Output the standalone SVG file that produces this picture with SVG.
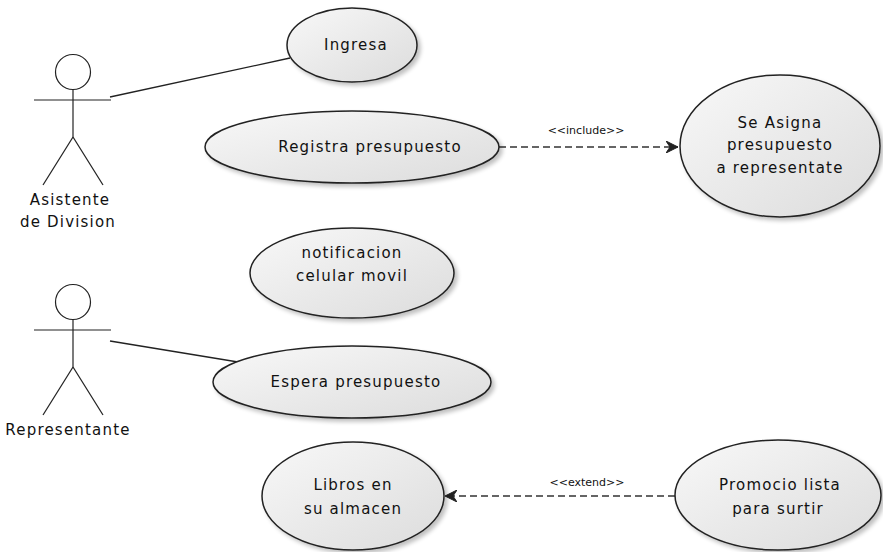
<svg xmlns="http://www.w3.org/2000/svg" width="883" height="552" viewBox="0 0 883 552">
<defs>
<linearGradient id="g" x1="0" y1="0" x2="1" y2="1">
<stop offset="0" stop-color="#f8f8f8"/>
<stop offset="1" stop-color="#dcdcdc"/>
</linearGradient>
<filter id="sh" x="-10%" y="-10%" width="130%" height="140%">
<feGaussianBlur in="SourceAlpha" stdDeviation="2"/>
<feOffset dx="3" dy="3"/>
<feComponentTransfer><feFuncA type="linear" slope="0.25"/></feComponentTransfer>
<feMerge><feMergeNode/><feMergeNode in="SourceGraphic"/></feMerge>
</filter>
<marker id="ah" markerWidth="14" markerHeight="12" refX="12" refY="6" orient="auto" markerUnits="userSpaceOnUse">
<path d="M0,0 L12,6 L0,12 L4,6 Z" fill="#222" stroke="#222" stroke-width="1"/>
</marker>
</defs>
<style>
.uc{fill:url(#g);stroke:#222;stroke-width:1.5;filter:url(#sh)}
.t{font-family:"DejaVu Sans","Liberation Sans",sans-serif;font-size:15px;letter-spacing:1.2px;fill:#111;text-anchor:middle}
.lbl{font-family:"DejaVu Sans","Liberation Sans",sans-serif;font-size:11px;fill:#111;text-anchor:middle}
.act{fill:none;stroke:#222;stroke-width:1.2}
.ln{fill:none;stroke:#222;stroke-width:1.3}
.dash{fill:none;stroke:#333;stroke-width:1.5;stroke-dasharray:7,4}
</style>
<rect width="883" height="552" fill="#fff"/>
<g id="connectors">
<line class="ln" x1="110" y1="97" x2="290" y2="58"/>
<line class="ln" x1="110" y1="341" x2="238" y2="362"/>
<line class="dash" x1="499" y1="147" x2="678" y2="147" marker-end="url(#ah)"/>
<text class="lbl" x="586" y="134">&lt;&lt;include&gt;&gt;</text>
<line class="dash" x1="675" y1="496" x2="445" y2="496" marker-end="url(#ah)"/>
<text class="lbl" x="587" y="486">&lt;&lt;extend&gt;&gt;</text>
</g>
<g id="asistente">
<circle class="act" cx="73" cy="72" r="17.5"/>
<line class="act" x1="73" y1="90" x2="73" y2="137"/>
<line class="act" x1="34" y1="100" x2="111" y2="100"/>
<line class="act" x1="73" y1="137" x2="43" y2="185"/>
<line class="act" x1="73" y1="137" x2="103" y2="185"/>
<text class="t" x="70" y="205">Asistente</text>
<text class="t" x="68" y="227">de Division</text>
</g>
<g id="representante">
<circle class="act" cx="73" cy="302" r="17.5"/>
<line class="act" x1="73" y1="320" x2="73" y2="367"/>
<line class="act" x1="34" y1="330" x2="111" y2="330"/>
<line class="act" x1="73" y1="367" x2="43" y2="415"/>
<line class="act" x1="73" y1="367" x2="103" y2="415"/>
<text class="t" x="68" y="435">Representante</text>
</g>
<g id="ingresa">
<ellipse class="uc" cx="352" cy="45" rx="65" ry="37"/>
<text class="t" x="356" y="50">Ingresa</text>
</g>
<g id="registra">
<ellipse class="uc" cx="352" cy="147" rx="147" ry="36"/>
<text class="t" x="370" y="152">Registra presupuesto</text>
</g>
<g id="asigna">
<ellipse class="uc" cx="780" cy="146" rx="100" ry="71"/>
<text class="t" x="780" y="128">Se Asigna</text>
<text class="t" x="780" y="150">presupuesto</text>
<text class="t" x="780" y="173">a representate</text>
</g>
<g id="notificacion">
<ellipse class="uc" cx="352" cy="273" rx="102" ry="45"/>
<text class="t" x="352" y="258">notificacion</text>
<text class="t" x="352" y="281">celular movil</text>
</g>
<g id="espera">
<ellipse class="uc" cx="352" cy="382" rx="139" ry="36"/>
<text class="t" x="356" y="387">Espera presupuesto</text>
</g>
<g id="libros">
<ellipse class="uc" cx="353" cy="496" rx="91" ry="54"/>
<text class="t" x="353" y="490">Libros en</text>
<text class="t" x="353" y="514">su almacen</text>
</g>
<g id="promocio">
<ellipse class="uc" cx="778" cy="495" rx="103" ry="55"/>
<text class="t" x="780" y="490">Promocio lista</text>
<text class="t" x="778" y="514">para surtir</text>
</g>
</svg>
